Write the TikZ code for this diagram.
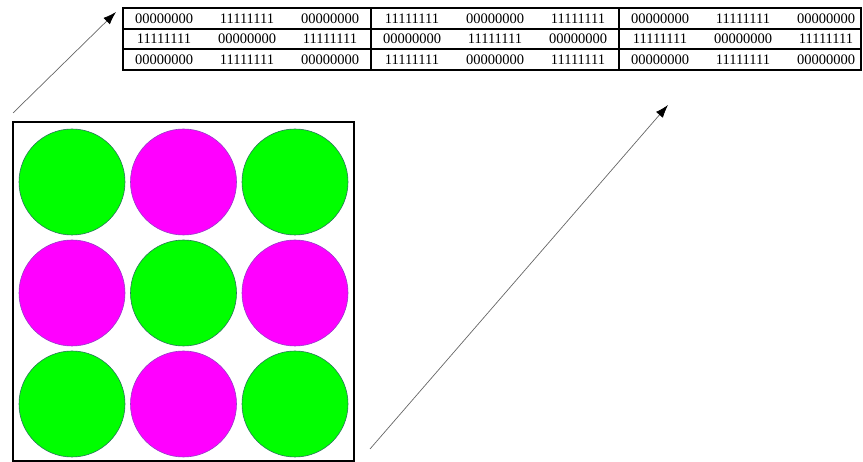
\documentclass[tikz,border=0pt]{standalone}
\usepackage{fontspec}
\setmainfont{Liberation Serif}
\usepackage{tikz}
\usetikzlibrary{arrows,arrows.meta,positioning,calc}

\tikzset{
  cellbit/.style={font=\fontsize{14.5}{15}\selectfont, inner sep=0pt},
  greendot/.style={fill={rgb,255:red,0;green,255;blue,0}, draw={rgb,255:red,40;green,120;blue,90}, line width=0.6pt},
  pinkdot/.style={fill={rgb,255:red,255;green,0;blue,255}, draw={rgb,255:red,150;green,60;blue,200}, line width=0.6pt},
  zoomarrow/.style={-{Latex[length=13pt,width=9pt,black]}, draw=black!60, line width=0.7pt}
}

\begin{document}
\begin{tikzpicture}[x=1pt,y=-1pt,>=latex]
  \useasboundingbox (0,0) rectangle (863,462);
  % Bit table
  \draw[line width=1.2pt] (123,29) -- (861,29);
  \draw[line width=1.2pt] (123,49) -- (861,49);
  \draw[line width=2pt] (371,8) -- (371,70);
  \draw[line width=2pt] (619,8) -- (619,70);
  \draw[line width=2pt] (123,8) rectangle (861,70);
  \foreach \g in {0,1,2}
    \foreach \c in {0,1,2}
      \foreach \r in {0,1,2} {
        \pgfmathtruncatemacro{\k}{mod(3*\g+\c+\r,2)}
        \pgfmathsetmacro{\cx}{123+248*\g+41+83*\c}
        \pgfmathsetmacro{\cy}{18.5+20.5*\r}
        \ifnum\k=0
          \node[cellbit] (b\g\c\r) at (\cx,\cy) {00000000};
        \else
          \node[cellbit] (b\g\c\r) at (\cx,\cy) {11111111};
        \fi
      }
  % Pixel block
  \draw[line width=2.8pt] (13,122) rectangle (354,461);
  \foreach \i in {0,1,2}
    \foreach \j in {0,1,2} {
      \pgfmathtruncatemacro{\k}{mod(\i+\j,2)}
      \ifnum\k=0
        \draw[greendot] (72+111.5*\i,182+111*\j) circle (53);
      \else
        \draw[pinkdot] (72+111.5*\i,182+111*\j) circle (53);
      \fi
    }
  % Zoom arrows
  \coordinate (blkTL) at (13,113);
  \coordinate (tabTL) at (116,12);
  \coordinate (blkBR) at (370,449);
  \coordinate (tabBR) at (668,105);
  \draw[zoomarrow] (blkTL) -- (tabTL);
  \draw[zoomarrow] (blkBR) -- (tabBR);
\end{tikzpicture}
\end{document}
